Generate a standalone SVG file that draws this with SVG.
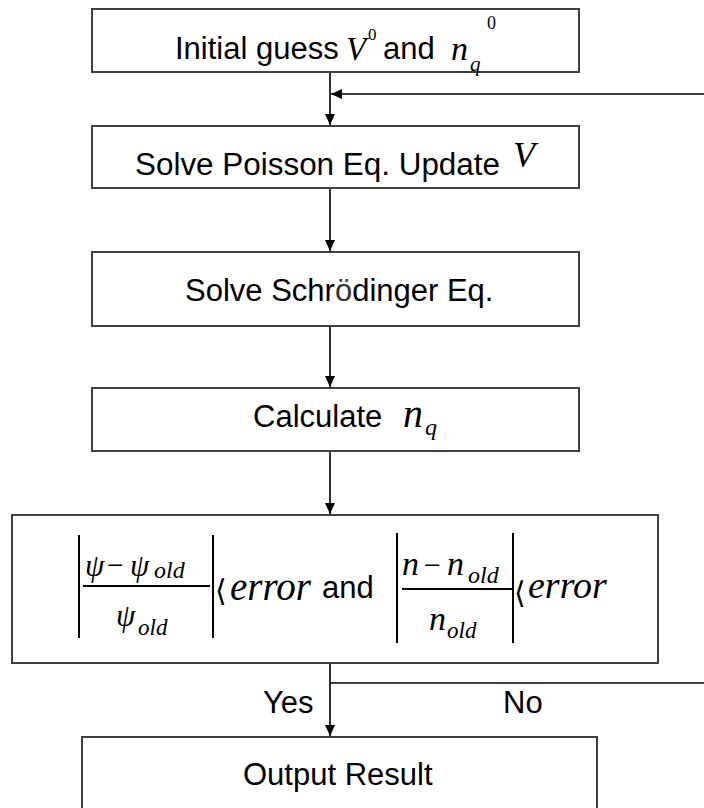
<svg xmlns="http://www.w3.org/2000/svg" width="704" height="808" viewBox="0 0 704 808">
<defs>
<style>
.box{fill:#ffffff;stroke:#404040;stroke-width:2}
.lbl{font-family:"Liberation Sans",Arial,sans-serif;font-size:31px;fill:#000}
.m{font-family:"Liberation Serif","Times New Roman",serif;font-style:italic;fill:#000}
.up{font-family:"Liberation Serif","Times New Roman",serif;fill:#000}
.ang{font-family:"DejaVu Serif","DejaVu Sans",serif;fill:#000}
.bar{stroke:#000;stroke-width:2;fill:none}
.con{stroke:#000;stroke-width:1.6;fill:none}
</style>
<marker id="ah" markerUnits="userSpaceOnUse" markerWidth="12" markerHeight="10" refX="11" refY="5" orient="auto">
<path d="M0,0 L11,5 L0,10 z" fill="#000"/>
</marker>
</defs>
<rect width="704" height="808" fill="#ffffff"/>

<g id="connectors">
<line class="con" x1="330" y1="72" x2="330" y2="125" marker-end="url(#ah)"/>
<line class="con" x1="704" y1="94" x2="331" y2="94" marker-end="url(#ah)"/>
<line class="con" x1="330" y1="188" x2="330" y2="251" marker-end="url(#ah)"/>
<line class="con" x1="330" y1="326" x2="330" y2="387" marker-end="url(#ah)"/>
<line class="con" x1="330" y1="451" x2="330" y2="514" marker-end="url(#ah)"/>
<line class="con" x1="330" y1="663" x2="330" y2="736" marker-end="url(#ah)"/>
<line class="con" x1="330" y1="683" x2="704" y2="683"/>
<text class="lbl" x="263" y="713" font-size="30">Yes</text>
<text class="lbl" x="503" y="713" font-size="30">No</text>
</g>

<g id="n1">
<rect class="box" x="92" y="9" width="487" height="63"/>
<text class="lbl" x="175" y="59">Initial guess</text>
<text class="m" x="346" y="60" font-size="33" fill="#222">V</text>
<text class="up" x="368" y="40" font-size="17">0</text>
<text class="lbl" x="383" y="59">and</text>
<text class="m" x="451" y="60" font-size="34">n</text>
<text class="m" x="470" y="71" font-size="21">q</text>
<text class="up" x="487" y="29" font-size="18">0</text>
</g>

<g id="n2">
<rect class="box" x="92" y="126" width="487" height="62"/>
<text class="lbl" x="135" y="175" textLength="365" lengthAdjust="spacingAndGlyphs">Solve Poisson Eq. Update</text>
<text class="m" x="513" y="167" font-size="36" fill="#222">V</text>
</g>

<g id="n3">
<rect class="box" x="92" y="252" width="487" height="74"/>
<text class="lbl" x="185" y="301">Solve Schr<tspan fill="#333">ö</tspan>dinger Eq.</text>
</g>

<g id="n4">
<rect class="box" x="92" y="388" width="487" height="63"/>
<text class="lbl" x="253" y="427">Calculate</text>
<text class="m" x="403" y="427" font-size="40">n</text>
<text class="m" x="425" y="435" font-size="24">q</text>
</g>

<g id="n5">
<rect class="box" x="12" y="515" width="646" height="148"/>
<line class="bar" x1="79" y1="535" x2="79" y2="638"/>
<text class="m" x="85" y="576" font-size="31">ψ</text>
<text class="up" x="107" y="575" font-size="30">−</text>
<text class="m" x="130" y="576" font-size="31">ψ</text>
<text class="m" x="154" y="578" font-size="24">old</text>
<line class="bar" x1="83" y1="586" x2="210" y2="586"/>
<text class="m" x="116" y="626" font-size="31">ψ</text>
<text class="m" x="138" y="635" font-size="23">old</text>
<line class="bar" x1="213" y1="535" x2="213" y2="638"/>
<text class="ang" x="215" y="601" font-size="30" font-weight="300">⟨</text>
<text class="m" x="230" y="600" font-size="39">error</text>
<text class="lbl" x="322" y="598">and</text>
<line class="bar" x1="397" y1="533" x2="397" y2="643"/>
<text class="m" x="402" y="575" font-size="34">n</text>
<text class="up" x="424" y="575" font-size="30">−</text>
<text class="m" x="447" y="575" font-size="34">n</text>
<text class="m" x="468" y="583" font-size="24">old</text>
<line class="bar" x1="402" y1="589" x2="512" y2="589"/>
<text class="m" x="429" y="630" font-size="34">n</text>
<text class="m" x="447" y="638" font-size="23">old</text>
<line class="bar" x1="513" y1="533" x2="513" y2="643"/>
<text class="ang" x="514" y="603" font-size="30" font-weight="300">⟨</text>
<text class="m" x="528" y="598" font-size="38">error</text>
</g>

<g id="n6">
<rect class="box" x="82" y="737" width="515" height="100"/>
<text class="lbl" x="243" y="785">Output Result</text>
</g>
</svg>
